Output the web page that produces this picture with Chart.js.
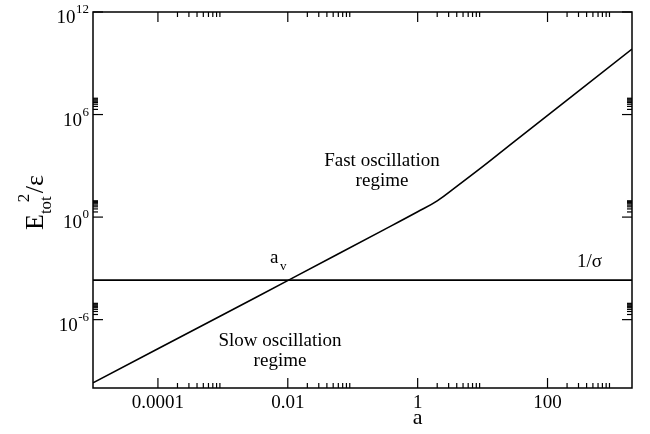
<!DOCTYPE html>
<html>
<head>
<meta charset="utf-8">
<script src="https://cdn.jsdelivr.net/npm/chart.js@4.4.1/dist/chart.umd.min.js"></script>
<style>
html, body { margin: 0; padding: 0; background: #fff; }
#wrap { width: 650px; height: 434px; }
</style>
</head>
<body>
<div id="wrap"><canvas id="chart" width="650" height="434"></canvas></div>
<script>
// curve (a, E_tot^2/eps)
const aValues = [1e-5, 1e-3, 0.011, 0.3, 1, 2, 4, 10, 30, 2000];
const energyValues = [2e-10, 1.95e-6, 2.34e-4, 0.178, 2.04, 8.9, 63, 890, 2.45e4, 6.8e9];
const sigmaLevel = 2.04e-4;
const xRange = [1e-5, 2000];
const yRange = [1e-10, 1e12];
const xMajorTicks = [1e-4, 1e-2, 1, 100];
const xTickLabels = ['0.0001', '0.01', '1', '100'];
const yMajorTicks = [1e-6, 1, 1e6, 1e12];
const yTickExponents = ['-6', '0', '6', '12'];

const SERIF = '"Liberation Serif", "DejaVu Serif", serif';

const curve = aValues.map((a, i) => ({ x: a, y: energyValues[i] }));
const sigmaLine = xRange.map(a => ({ x: a, y: sigmaLevel }));

const frame = {
    id: 'frame',
    afterDraw(chart) {
        const ctx = chart.ctx;
        const { left, right, top, bottom } = chart.chartArea;
        const xs = chart.scales.x, ys = chart.scales.y;
        ctx.save();
        ctx.strokeStyle = '#000';
        ctx.fillStyle = '#000';
        ctx.lineWidth = 1.5;
        ctx.strokeRect(left, top, right - left, bottom - top);

        const tick = (x1, y1, x2, y2) => {
            ctx.beginPath(); ctx.moveTo(x1, y1); ctx.lineTo(x2, y2); ctx.stroke();
        };
        ctx.lineWidth = 1.2;
        // x ticks, top and bottom, pointing in
        xMajorTicks.forEach(m => {
            const px = xs.getPixelForValue(m);
            tick(px, bottom, px, bottom - 10);
            tick(px, top, px, top + 10);
            for (let k = 2; k <= 9; k++) {
                const v = m * k;
                if (v > xRange[1]) break;
                const p = xs.getPixelForValue(v);
                tick(p, bottom, p, bottom - 5);
                tick(p, top, p, top + 5);
            }
        });
        // y ticks, left and right
        yMajorTicks.forEach(m => {
            const py = ys.getPixelForValue(m);
            tick(left, py, left + 10, py);
            tick(right, py, right - 10, py);
            for (let k = 2; k <= 9; k++) {
                const v = m * k;
                if (v > yRange[1]) break;
                const p = ys.getPixelForValue(v);
                tick(left, p, left + 5, p);
                tick(right, p, right - 5, p);
            }
        });

        // x tick labels
        ctx.font = '19px ' + SERIF;
        ctx.textAlign = 'center';
        ctx.textBaseline = 'alphabetic';
        xMajorTicks.forEach((m, i) => {
            ctx.fillText(xTickLabels[i], xs.getPixelForValue(m), 408);
        });

        // y tick labels: 10 with a superscript
        yMajorTicks.forEach((m, i) => {
            const py = ys.getPixelForValue(m);
            ctx.font = '13px ' + SERIF;
            const supW = ctx.measureText(yTickExponents[i]).width;
            ctx.textAlign = 'left';
            ctx.fillText(yTickExponents[i], 89 - supW, py + 1);
            ctx.font = '19px ' + SERIF;
            ctx.textAlign = 'right';
            ctx.fillText('10', 89 - supW - 0.5, py + 11);
        });

        // axis titles
        ctx.font = '22px ' + SERIF;
        ctx.textAlign = 'center';
        ctx.fillText('a', xs.getPixelForValue(1), 424);

        ctx.save();
        ctx.translate(43, 230);
        ctx.rotate(-Math.PI / 2);
        ctx.textAlign = 'left';
        ctx.font = '26px ' + SERIF;
        ctx.fillText('E', 0, 0);
        const w = ctx.measureText('E').width;
        ctx.font = '17px ' + SERIF;
        ctx.fillText('tot', w, 8);
        const totW = ctx.measureText('tot').width;
        ctx.fillText('2', w + totW - 6, -14);
        ctx.font = '26px ' + SERIF;
        ctx.fillText('/ε', w + totW + 3, 0);
        ctx.restore();

        // annotations
        ctx.font = '19px ' + SERIF;
        ctx.textAlign = 'center';
        ctx.fillText('Fast oscillation', 382, 166);
        ctx.fillText('regime', 382, 186);
        ctx.fillText('Slow oscillation', 280, 346);
        ctx.fillText('regime', 280, 366);
        ctx.textAlign = 'left';
        ctx.fillText('a', 270, 263);
        ctx.font = '13px ' + SERIF;
        ctx.fillText('v', 280, 270);
        ctx.font = '19px ' + SERIF;
        ctx.fillText('1/σ', 577, 267);
        ctx.restore();
    }
};

new Chart(document.getElementById('chart'), {
    type: 'scatter',
    data: {
        datasets: [
            { data: curve, showLine: true, borderColor: '#000', borderWidth: 1.6, pointRadius: 0, tension: 0.4 },
            { data: sigmaLine, showLine: true, borderColor: '#000', borderWidth: 1.8, pointRadius: 0 }
        ]
    },
    options: {
        responsive: false,
        animation: false,
        devicePixelRatio: 1,
        layout: { padding: { left: 93, top: 12, right: 18, bottom: 46 } },
        plugins: { legend: { display: false }, tooltip: { enabled: false } },
        scales: {
            x: { type: 'logarithmic', min: xRange[0], max: xRange[1], display: false },
            y: { type: 'logarithmic', min: yRange[0], max: yRange[1], display: false }
        }
    },
    plugins: [frame]
});
</script>
</body>
</html>
